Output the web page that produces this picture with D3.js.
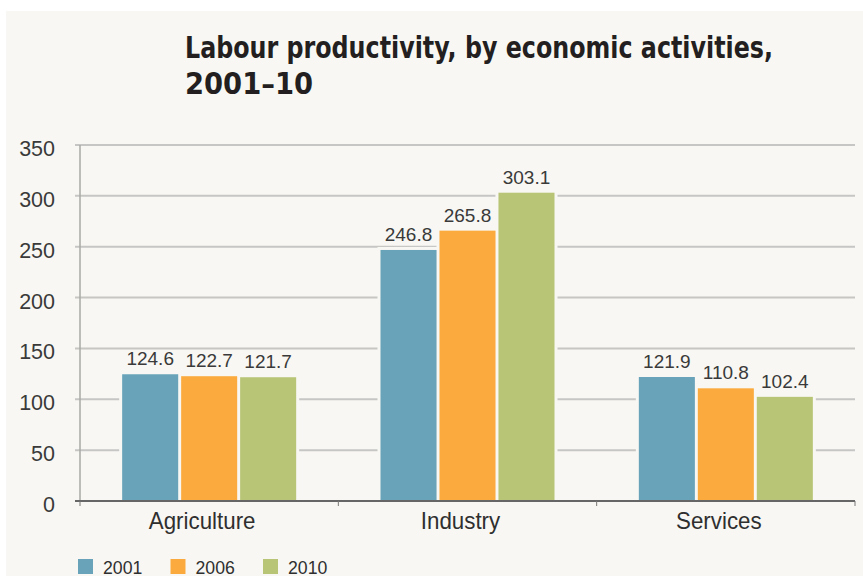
<!DOCTYPE html>
<html>
<head>
<meta charset="utf-8">
<script src="https://cdn.jsdelivr.net/npm/d3@7"></script>
<style>
  body { margin: 0; background: #fff; }
  svg { display: block; }
</style>
</head>
<body>
<script>
var Width = 863;
var Height = 576;

var categories = ["Agriculture", "Industry", "Services"];
var years = ["2001", "2006", "2010"];
var values2001 = [124.6, 246.8, 121.9];
var values2006 = [122.7, 265.8, 110.8];
var values2010 = [121.7, 303.1, 102.4];
var yTicks = [0, 50, 100, 150, 200, 250, 300, 350];
var colours = ["#68a3b9", "#fbab3e", "#b8c576"];

var bg = "#f8f7f3";
var margin = { left: 80, right: 8, top: 145, bottom: 75 };

var svg = d3.select("body").append("svg")
  .attr("width", Width)
  .attr("height", Height);

svg.append("rect")
  .attr("x", 6).attr("y", 11)
  .attr("width", Width - 6).attr("height", Height - 11)
  .attr("fill", bg);

// title
var title = svg.append("text")
  .attr("x", 185)
  .attr("font-family", "'DejaVu Sans Condensed', 'DejaVu Sans', sans-serif")
  .attr("font-stretch", "condensed")
  .attr("font-weight", "bold")
  .attr("font-size", 30)
  .attr("fill", "#231f20");
title.append("tspan").attr("x", 185).attr("y", 58)
  .attr("textLength", 588).attr("lengthAdjust", "spacingAndGlyphs")
  .text("Labour productivity, by economic activities,");
title.append("tspan").attr("x", 185).attr("y", 94)
  .attr("textLength", 128).attr("lengthAdjust", "spacingAndGlyphs")
  .text("2001–10");

var x = d3.scaleBand()
  .domain(categories)
  .range([margin.left, Width - margin.right]);

var x1 = d3.scaleBand()
  .domain(years)
  .range([0, 174])
  .paddingInner(0.05);

var y = d3.scaleLinear()
  .domain([0, 350])
  .range([Height - margin.bottom, margin.top]);

// gridlines
svg.append("g")
  .selectAll("line")
  .data(yTicks.slice(1))
  .enter()
  .append("line")
  .attr("x1", margin.left - 5)
  .attr("x2", Width - margin.right)
  .attr("y1", function (d) { return y(d); })
  .attr("y2", function (d) { return y(d); })
  .attr("stroke", "#c6c6c4")
  .attr("stroke-width", 2);

// y axis line
svg.append("line")
  .attr("x1", margin.left).attr("x2", margin.left)
  .attr("y1", y(350)).attr("y2", y(0))
  .attr("stroke", "#a8a8a6")
  .attr("stroke-width", 1.5);

// y tick labels
svg.append("g")
  .selectAll("text")
  .data(yTicks)
  .enter()
  .append("text")
  .attr("x", 55)
  .attr("y", function (d) { return y(d) + 11; })
  .attr("text-anchor", "end")
  .attr("font-family", "'Liberation Sans', Arial, sans-serif")
  .attr("font-size", 21.5)
  .attr("fill", "#3a3a3a")
  .text(function (d) { return d; });

var series = years.map(function (yr, i) {
  return { year: yr, values: [values2001, values2006, values2010][i] };
});

var groups = svg.append("g")
  .selectAll("g")
  .data(categories)
  .enter()
  .append("g")
  .attr("transform", function (d) {
    return "translate(" + (x(d) + x.bandwidth() / 2 - 87) + ",0)";
  });

var barData = function (c, ci) {
  return series.map(function (s, i) {
    return { year: s.year, value: s.values[ci], colour: colours[i] };
  });
};

// background halo behind bars (cuts the gridlines)
groups.selectAll("rect.halo")
  .data(barData)
  .enter()
  .append("rect")
  .attr("class", "halo")
  .attr("x", function (d) { return x1(d.year) - 3; })
  .attr("width", x1.bandwidth() + 6)
  .attr("y", function (d) { return y(d.value) - 3; })
  .attr("height", function (d) { return y(0) - y(d.value) + 3; })
  .attr("fill", bg);

groups.selectAll("rect.bar")
  .data(barData)
  .enter()
  .append("rect")
  .attr("class", "bar")
  .attr("x", function (d) { return x1(d.year); })
  .attr("width", x1.bandwidth())
  .attr("y", function (d) { return y(d.value); })
  .attr("height", function (d) { return y(0) - y(d.value); })
  .attr("fill", function (d) { return d.colour; });

groups.selectAll("text.val")
  .data(barData)
  .enter()
  .append("text")
  .attr("class", "val")
  .attr("x", function (d) { return x1(d.year) + x1.bandwidth() / 2; })
  .attr("y", function (d) { return y(d.value) - 9; })
  .attr("text-anchor", "middle")
  .attr("font-family", "'Liberation Sans', Arial, sans-serif")
  .attr("font-size", 19)
  .attr("fill", "#3a3a3a")
  .text(function (d) { return d.value.toFixed(1); });

// x axis
svg.append("line")
  .attr("x1", margin.left - 5).attr("x2", Width - margin.right)
  .attr("y1", y(0)).attr("y2", y(0))
  .attr("stroke", "#666")
  .attr("stroke-width", 2);

svg.append("g")
  .selectAll("line")
  .data(categories.concat(["end"]))
  .enter()
  .append("line")
  .attr("x1", function (d, i) { return i < 3 ? x(d) : Width - margin.right; })
  .attr("x2", function (d, i) { return i < 3 ? x(d) : Width - margin.right; })
  .attr("y1", y(0)).attr("y2", y(0) + 5)
  .attr("stroke", "#777")
  .attr("stroke-width", 1);

// category labels, squeezed to the narrow look of the original
svg.append("g")
  .selectAll("text")
  .data(categories)
  .enter()
  .append("text")
  .attr("x", function (d) { return x(d) + x.bandwidth() / 2 - 7; })
  .attr("y", 529)
  .attr("text-anchor", "middle")
  .attr("font-family", "'Liberation Sans', Arial, sans-serif")
  .attr("font-size", 24)
  .attr("fill", "#2f2f2f")
  .text(function (d) { return d; })
  .each(function () {
    var w = this.getComputedTextLength();
    d3.select(this).attr("textLength", w * 0.93).attr("lengthAdjust", "spacingAndGlyphs");
  });

// legend
var legend = svg.append("g")
  .selectAll("g")
  .data(years)
  .enter()
  .append("g")
  .attr("transform", function (d, i) { return "translate(" + (78 + i * 92.5) + ",559)"; });

legend.append("rect")
  .attr("width", 15).attr("height", 15)
  .attr("fill", function (d, i) { return colours[i]; });

legend.append("text")
  .attr("x", 25).attr("y", 14.5)
  .attr("font-family", "'Liberation Sans', Arial, sans-serif")
  .attr("font-size", 19)
  .attr("fill", "#2f2f2f")
  .text(function (d) { return d; })
  .each(function () {
    var w = this.getComputedTextLength();
    d3.select(this).attr("textLength", w * 0.93).attr("lengthAdjust", "spacingAndGlyphs");
  });
</script>
</body>
</html>
